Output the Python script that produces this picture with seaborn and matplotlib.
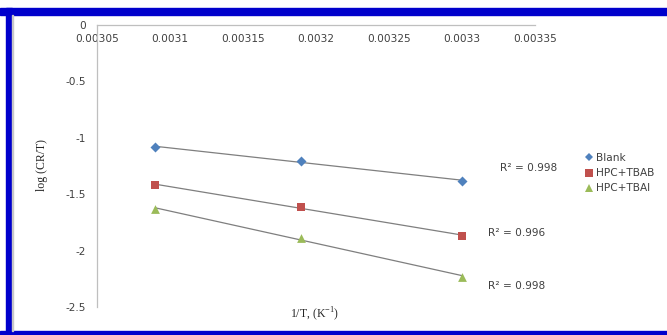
import numpy as np
import pandas as pd
import seaborn as sns
from matplotlib import pyplot as plt
from matplotlib.lines import Line2D
from matplotlib.patches import Rectangle

# values
inv_T = [0.00309, 0.00319, 0.00330]
blank = [-1.08, -1.21, -1.38]
tbab = [-1.42, -1.61, -1.87]
tbai = [-1.63, -1.89, -2.23]
series_names = ['Blank', 'HPC+TBAB', 'HPC+TBAI']
r2_labels = ['R² = 0.998', 'R² = 0.996', 'R² = 0.998']
x_ticks = [0.00305, 0.0031, 0.00315, 0.0032, 0.00325, 0.0033, 0.00335]
y_ticks = [0, -0.5, -1, -1.5, -2, -2.5]

colors = {'Blank': '#4f81bd', 'HPC+TBAB': '#c0504d', 'HPC+TBAI': '#9bbb59'}
markers = {'Blank': 'D', 'HPC+TBAB': 's', 'HPC+TBAI': '^'}
sizes = {'Blank': 26, 'HPC+TBAB': 38, 'HPC+TBAI': 40}

df = pd.DataFrame({
    'inv_T': inv_T * 3,
    'log_CRT': blank + tbab + tbai,
    'series': [s for s in series_names for _ in inv_T],
})

sns.set_style('white')
plt.rcParams['font.family'] = ['DejaVu Sans']
plt.rcParams['axes.unicode_minus'] = False
plt.rcParams['mathtext.fontset'] = 'custom'
plt.rcParams['mathtext.rm'] = 'Liberation Serif'

fig = plt.figure(figsize=(6.67, 3.35), dpi=100)
ax = fig.add_axes([0.1454, 0.0836, 0.6567, 0.8418])

# linear trendlines
for name in series_names:
    sub = df[df.series == name]
    sns.regplot(data=sub, x='inv_T', y='log_CRT', scatter=False, ci=None,
                color='#7f7f7f', line_kws={'linewidth': 0.9}, ax=ax)

for name in series_names:
    sub = df[df.series == name]
    sns.scatterplot(data=sub, x='inv_T', y='log_CRT', marker=markers[name],
                    color=colors[name], s=sizes[name], linewidth=0, ax=ax,
                    zorder=3, legend=False)

ax.set_xlim(0.00305, 0.00335)
ax.set_ylim(-2.5, 0)
ax.set_xticks(x_ticks)
ax.set_yticks(y_ticks)
ax.set_xticklabels([f'{v:g}' for v in x_ticks])
ax.set_yticklabels([f'{v:g}' for v in y_ticks])

for side in ['top', 'right']:
    ax.spines[side].set_visible(False)
ax.spines['bottom'].set_position(('data', 0))
for side in ['bottom', 'left']:
    ax.spines[side].set_color('#bfbfbf')
    ax.spines[side].set_linewidth(0.9)
ax.tick_params(axis='x', direction='in', length=3, color='#bfbfbf',
               labelsize=7.6, labelcolor='#404040', pad=6.5)
ax.tick_params(axis='y', direction='out', length=3, color='#bfbfbf',
               labelsize=7.6, labelcolor='#404040', pad=5)
ax.set_xlabel('')
ax.set_ylabel('')

fig.text(0.063, 0.507, 'log (CR/T)', rotation=90, ha='center', va='center',
         family='Liberation Serif', fontsize=8.5)
fig.text(0.472, 0.063, r'1/T, (K$^{\mathregular{-1}}$)', ha='center',
         va='center', family='Liberation Serif', fontsize=8.5)

r2_pos = [(0.003326, -1.265), (0.003318, -1.84), (0.003318, -2.31)]
for (x, y), lab in zip(r2_pos, r2_labels):
    ax.text(x, y, lab, ha='left', va='center', fontsize=7.6, color='#404040')

handles = [Line2D([], [], linestyle='none', marker=markers[n], color=colors[n],
                  markersize={'Blank': 4.5, 'HPC+TBAB': 6, 'HPC+TBAI': 6}[n],
                  markeredgewidth=0) for n in series_names]
ax.legend(handles, series_names, loc='center left', frameon=False,
          bbox_to_anchor=(0.862, 0.483), bbox_transform=fig.transFigure,
          fontsize=7.6, handlelength=0.8, handletextpad=0.3,
          labelspacing=0.5, labelcolor='#404040')

# blue frame round the chart area
blue = '#0000cc'
fig.patches.append(Rectangle((0, 1 - 15 / 335), 1, 7 / 335,
                             transform=fig.transFigure, color=blue))
fig.patches.append(Rectangle((6 / 667, 0), 6 / 667, 1 - 8 / 335,
                             transform=fig.transFigure, color=blue))
fig.patches.append(Rectangle((0, 0), 1, 4 / 335,
                             transform=fig.transFigure, color=blue))
fig.patches.append(Rectangle((12 / 667, 4 / 335), 1.2 / 667, 1 - 19 / 335,
                             transform=fig.transFigure, color='#c8c8c8'))

fig.savefig('out.png', dpi=100)
